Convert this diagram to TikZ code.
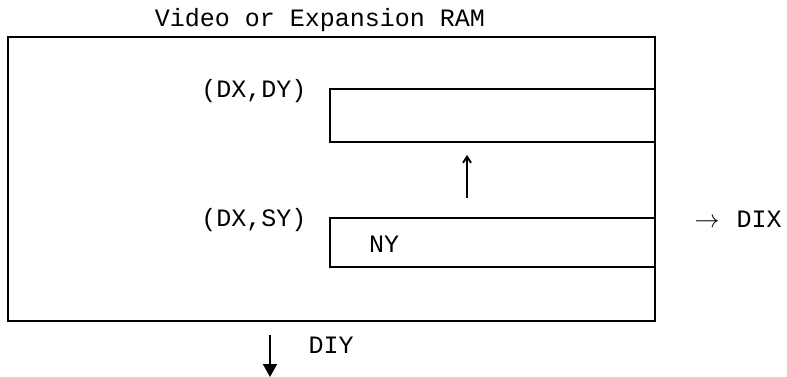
\documentclass[tikz,border=0pt]{standalone}
\usepackage{fontspec}
\setmonofont{Liberation Mono}
\usetikzlibrary{arrows.meta}
\tikzset{
  lbl/.style={font=\ttfamily\fontsize{25}{30}\selectfont, inner sep=0pt, anchor=base},
  boxline/.style={draw, line width=2pt},
}
\begin{document}
\begin{tikzpicture}[x=1pt,y=-1pt]
\useasboundingbox (0,0) rectangle (787,377);
% outer RAM box
\draw[boxline] (8,37) rectangle (655,321);
% destination and source blocks
\draw[boxline] (655,89) -- (330,89) -- (330,142) -- (655,142);
\draw[boxline] (655,218) -- (330,218) -- (330,267) -- (655,267);
\node[lbl] (title) at (320,27) {Video or Expansion RAM};
\node[lbl] (dxdy) at (254,98) {(DX,DY)};
\node[lbl] (dxsy) at (254,226) {(DX,SY)};
\node[lbl] (ny) at (384,252) {NY};
\node[lbl] (dix) at (759,227) {\makebox[0pt][r]{$\rightarrow$\hspace{17pt}}DIX};
\node[lbl] (diy) at (331,353) {DIY};
% move arrow
\coordinate (ua) at (467,198);
\coordinate (ub) at (467,155);
\draw[line width=2pt, -{Straight Barb[length=6pt,width=8pt]}] (ua) -- (ub);
% DIY arrow
\coordinate (da) at (270,335);
\coordinate (db) at (270,377);
\draw[line width=2pt, -{Triangle[length=13pt,width=14pt]}] (da) -- (db);
\end{tikzpicture}
\end{document}
